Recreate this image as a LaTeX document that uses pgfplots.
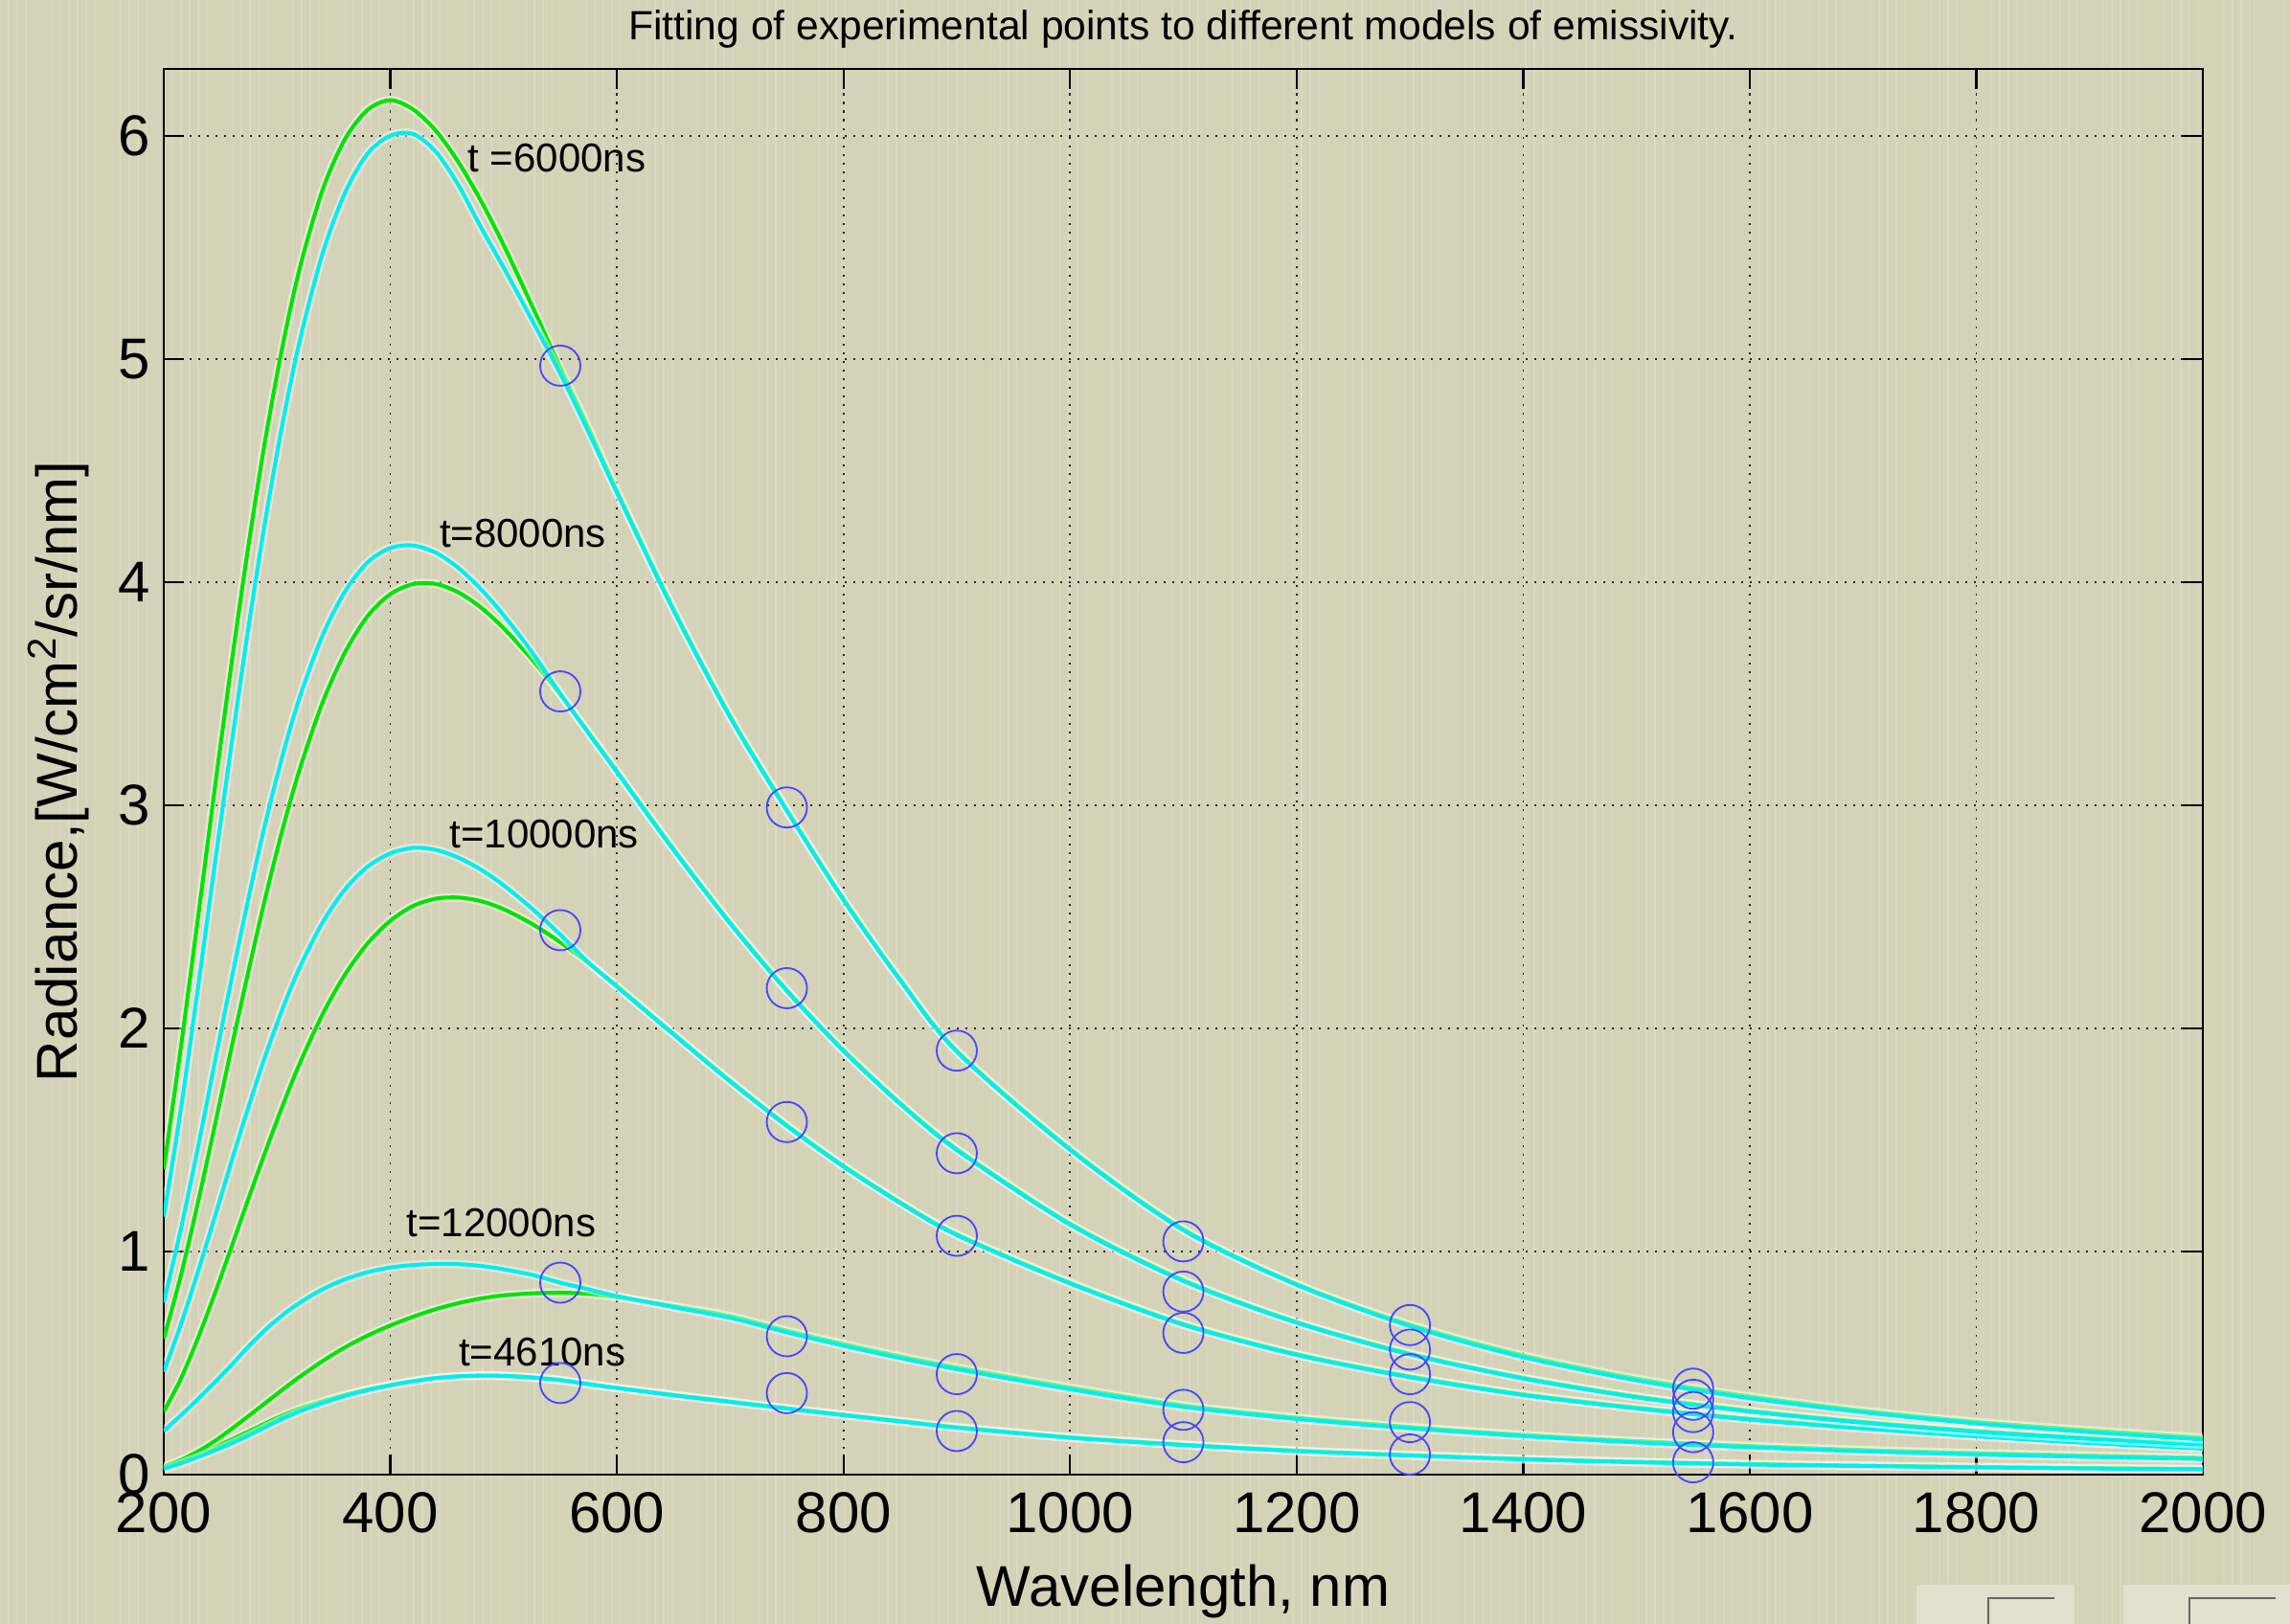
\documentclass[border=0pt]{standalone}
\usepackage{fontspec}
\setmainfont{Liberation Sans}
\usepackage{pgfplots}
\pgfplotsset{compat=1.18}
\usepackage{pgfplotstable}

\definecolor{paper}{RGB}{212,210,183}
\definecolor{paperlight}{RGB}{226,224,204}
\definecolor{fitgreen}{RGB}{0,228,0}
\definecolor{fitcyan}{RGB}{0,238,238}
\definecolor{ptblue}{RGB}{70,70,255}

% Fitted radiance curves, W/cm^2/sr/nm, one green/cyan pair per delay
\pgfplotstableread{
lam   G1    C1    G2    C2    G3    C3    G4    C4    G5    C5
200  1.370 1.156 0.609 0.771 0.282 0.461 0.035 0.195 0.027 0.025
215  1.911 1.634 0.890 1.098 0.428 0.671 0.065 0.265 0.058 0.050
230  2.487 2.174 1.215 1.461 0.609 0.906 0.103 0.338 0.090 0.078
245  3.073 2.733 1.563 1.846 0.810 1.154 0.150 0.414 0.123 0.108
260  3.641 3.279 1.917 2.225 1.023 1.407 0.205 0.492 0.157 0.140
275  4.172 3.806 2.262 2.589 1.240 1.651 0.263 0.575 0.193 0.175
290  4.649 4.288 2.592 2.926 1.451 1.882 0.322 0.650 0.230 0.213
305  5.061 4.715 2.894 3.225 1.654 2.089 0.381 0.715 0.265 0.250
320  5.406 5.081 3.161 3.484 1.842 2.273 0.438 0.770 0.295 0.283
340  5.755 5.470 3.458 3.759 2.061 2.473 0.508 0.830 0.328 0.320
360  5.986 5.745 3.685 3.958 2.241 2.623 0.570 0.875 0.357 0.352
380  6.117 5.921 3.848 4.089 2.381 2.725 0.623 0.907 0.381 0.378
400  6.160 6.001 3.946 4.153 2.482 2.784 0.668 0.928 0.401 0.400
420  6.119 6.009 3.991 4.164 2.548 2.809 0.707 0.939 0.418 0.418
440  6.024 5.930 3.992 4.132 2.581 2.800 0.741 0.944 0.432 0.432
460  5.883 5.780 3.954 4.064 2.586 2.765 0.768 0.943 0.440 0.440
480  5.709 5.590 3.886 3.968 2.570 2.711 0.789 0.935 0.443 0.443
500  5.511 5.410 3.793 3.852 2.534 2.641 0.803 0.920 0.442 0.442
525  5.239 5.175 3.654 3.686 2.468 2.537 0.812 0.895 0.435 0.435
550  4.960 4.935 3.496 3.500 2.386 2.420 0.815 0.860 0.423 0.423
575  4.690 4.672 3.326 3.322 2.292 2.295 0.810 0.830 0.405 0.405
600  4.410 4.400 3.153 3.148 2.190 2.186 0.795 0.800 0.388 0.388
650  3.880 3.872 2.804 2.799 1.976 1.972 0.755 0.750 0.357 0.355
700  3.400 3.393 2.474 2.469 1.765 1.761 0.710 0.702 0.327 0.325
750  2.980 2.975 2.172 2.167 1.566 1.562 0.645 0.637 0.297 0.295
800  2.580 2.575 1.903 1.898 1.384 1.380 0.585 0.577 0.268 0.266
850  2.220 2.215 1.666 1.661 1.221 1.217 0.530 0.522 0.240 0.238
900  1.900 1.895 1.459 1.454 1.077 1.073 0.480 0.472 0.212 0.210
1000 1.460 1.455 1.125 1.120 0.860 0.856 0.390 0.382 0.167 0.165
1100 1.100 1.095 0.872 0.867 0.675 0.671 0.310 0.303 0.134 0.132
1200 0.854 0.850 0.684 0.680 0.540 0.536 0.255 0.249 0.107 0.105
1300 0.672 0.665 0.542 0.538 0.440 0.436 0.213 0.207 0.087 0.085
1400 0.534 0.526 0.434 0.430 0.360 0.356 0.178 0.172 0.070 0.068
1500 0.430 0.422 0.350 0.346 0.300 0.296 0.150 0.144 0.057 0.055
1600 0.350 0.342 0.286 0.282 0.250 0.246 0.128 0.122 0.047 0.045
1700 0.286 0.279 0.236 0.232 0.210 0.206 0.110 0.104 0.040 0.038
1800 0.236 0.229 0.195 0.191 0.175 0.171 0.096 0.090 0.034 0.032
1900 0.198 0.190 0.164 0.160 0.145 0.141 0.085 0.079 0.029 0.027
2000 0.165 0.157 0.138 0.134 0.120 0.116 0.075 0.070 0.025 0.023
}\curves

% Measured points at the six detector wavelengths
\pgfplotstableread{
lam  val
550  4.97
550  3.51
550  2.44
550  0.86
550  0.41
750  2.99
750  2.18
750  1.58
750  0.62
750  0.365
900  1.90
900  1.44
900  1.07
900  0.45
900  0.195
1100 1.045
1100 0.82
1100 0.635
1100 0.29
1100 0.145
1300 0.67
1300 0.56
1300 0.45
1300 0.235
1300 0.09
1550 0.385
1550 0.335
1550 0.28
1550 0.19
1550 0.055
}\points

\pgfplotsset{
  fitline/.style={smooth, no markers, line width=1.35pt,
    preaction={draw=white, draw opacity=0.45, line width=3pt}},
}

\begin{document}
\begin{tikzpicture}
\fill[paper] (-57pt,-52pt) rectangle (740pt,513.3pt);
% faint vertical grain of the paper
\foreach \i in {0,...,265}{
  \pgfmathsetmacro{\xx}{-57+3*\i}
  \pgfmathsetmacro{\op}{0.10+0.08*sin(\i*53)}
  \draw[white, opacity=\op, line width=0.7pt] (\xx pt,-52pt) -- (\xx pt,513.3pt);
}
% window controls in the lower right corner
\fill[paperlight] (610pt,-52pt) rectangle (665pt,-38.3pt);
\draw[black!60, line width=0.8pt] (635pt,-52pt) -- (635pt,-43pt) -- (658pt,-43pt);
\fill[paperlight] (682pt,-52pt) rectangle (740pt,-38.3pt);
\draw[black!60, line width=0.8pt] (705pt,-52pt) -- (705pt,-43pt) -- (735pt,-43pt);

\begin{axis}[
  at={(0,0)}, anchor=south west,
  scale only axis, width=709.7pt, height=489.3pt,
  xmin=200, xmax=2000, ymin=0, ymax=6.3,
  xtick={200,400,...,2000}, ytick={0,1,...,6},
  xtick pos=both, ytick pos=both,
  xticklabel pos=lower, yticklabel pos=left,
  tick align=inside, major tick length=7pt,
  axis line style={black, line width=0.8pt},
  tick style={black, line width=0.8pt},
  grid=major,
  major grid style={black!85, line width=0.6pt, dash pattern=on 0.8pt off 2.2pt},
  /pgf/number format/assume math mode=true,
  /pgf/number format/1000 sep={},
  tick label style={font=\fontsize{20}{24}\selectfont, inner sep=0pt},
  xticklabel style={yshift=-6pt},
  yticklabel style={xshift=-4.6pt},
  every axis title shift=0pt,
  title={Fitting of experimental points to different models of emissivity.},
  title style={at={(axis description cs:0.5,1.0282)}, anchor=center, inner sep=0pt,
    font=\fontsize{14.2}{17}\selectfont},
  xlabel={Wavelength, nm},
  xlabel style={at={(axis description cs:0.5,-0.0832)}, anchor=center, inner sep=0pt,
    font=\fontsize{20}{24}\selectfont},
  ylabel={Radiance,[W/cm\textsuperscript{2}/sr/nm]},
  ylabel style={at={(axis description cs:-0.0517,0.5)}, anchor=center, inner sep=0pt,
    font=\fontsize{20}{24}\selectfont},
  clip=true,
]
% green model
\addplot[fitline, fitgreen] table[x=lam, y=G5] {\curves};
\addplot[fitline, fitgreen] table[x=lam, y=G4] {\curves};
\addplot[fitline, fitgreen] table[x=lam, y=G3] {\curves};
\addplot[fitline, fitgreen] table[x=lam, y=G2] {\curves};
\addplot[fitline, fitgreen] table[x=lam, y=G1] {\curves};
% cyan model
\addplot[fitline, fitcyan] table[x=lam, y=C5] {\curves};
\addplot[fitline, fitcyan] table[x=lam, y=C4] {\curves};
\addplot[fitline, fitcyan] table[x=lam, y=C3] {\curves};
\addplot[fitline, fitcyan] table[x=lam, y=C2] {\curves};
\addplot[fitline, fitcyan] table[x=lam, y=C1] {\curves};
% experimental points
\addplot[only marks, mark=o, mark size=7pt, mark options={ptblue, line width=0.6pt}]
  table[x=lam, y=val] {\points};

\begin{scope}[every node/.style={anchor=west, inner sep=0pt, font=\fontsize{14}{17}\selectfont}]
\node at (axis cs:468,5.90) {t =6000ns};
\node at (axis cs:443,4.22) {t=8000ns};
\node at (axis cs:452,2.87) {t=10000ns};
\node at (axis cs:414,1.13) {t=12000ns};
\node at (axis cs:460,0.55) {t=4610ns};
\end{scope}
\end{axis}
\pgfresetboundingbox
\useasboundingbox (-57pt,-52pt) rectangle (740pt,513.3pt);
\end{tikzpicture}
\end{document}
